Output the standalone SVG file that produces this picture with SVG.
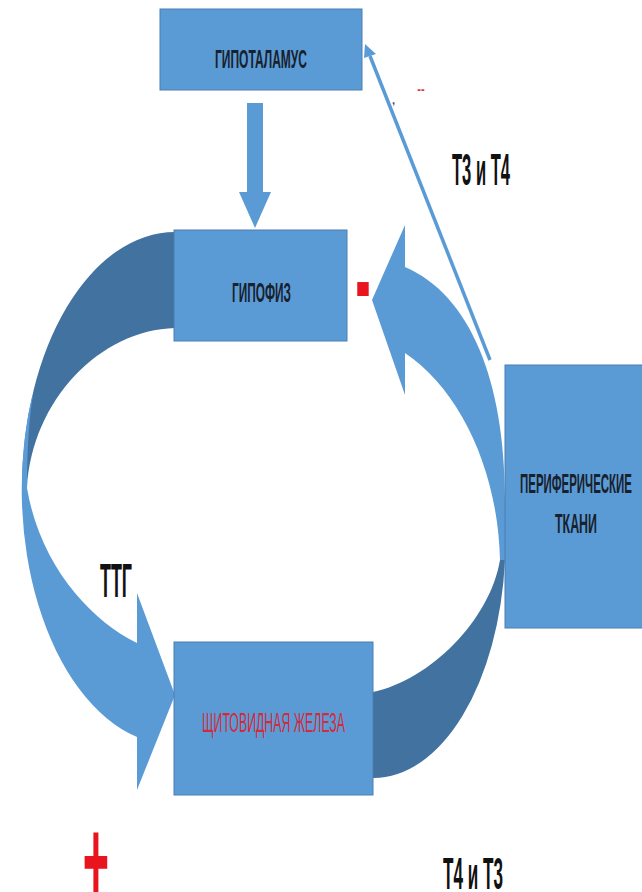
<svg xmlns="http://www.w3.org/2000/svg" width="642" height="892" viewBox="0 0 642 892">
<defs>
<style>
.box{fill:#5b9bd5;stroke:#4a7fb0;stroke-width:1}
.light{fill:#5b9bd5}
.dark{fill:#42729f}
.nt{font-family:"Liberation Sans",Arial,sans-serif;font-weight:bold;fill:#18212e;text-anchor:middle}
.lbl{font-family:"Liberation Sans",Arial,sans-serif;font-weight:bold;fill:#111;text-anchor:middle}
.red{font-family:"Liberation Sans",Arial,sans-serif;font-weight:bold;fill:#e8141e;text-anchor:middle}
</style>
</defs>
<rect width="642" height="892" fill="#fff"/>
<g id="connectors">
<path class="dark" d="M175 232 A153 256 0 0 0 22 488 L27 488 C32 400 100 330 175 328 Z"/>
<path class="light" d="M32.4 395 A153 256 0 0 0 137 737 L137 790 L175 695 L137 593 L137 643 C90 620 40 565 27 488 Q27 430 33 395 Z"/>
<path class="light" d="M505 560 L505 500 C505 380 470 295 405 267 L405 225 L372 300 L405 395 L405 353 C460 390 498 470 500 560 Z"/>
<path class="dark" d="M505 560 A132 238 0 0 1 373 778 L373 692 C430 680 490 620 500 560 Z"/>
<polygon class="light" points="247,103 263,103 263,192 271,192 255,228 239,192 247,192"/>
<line x1="490" y1="360" x2="370" y2="56" stroke="#5b9bd5" stroke-width="3.5"/>
<polygon class="light" points="365,44 376,54 364,58"/>
</g>
<g id="node-hypothalamus">
<rect class="box" x="160" y="9" width="202" height="81"/>
<text class="nt" x="261" y="68" font-size="25" textLength="92" lengthAdjust="spacingAndGlyphs">ГИПОТАЛАМУС</text>
</g>
<g id="node-hypophysis">
<rect class="box" x="174" y="230" width="173" height="111"/>
<text class="nt" x="261.5" y="302" font-size="27" textLength="59" lengthAdjust="spacingAndGlyphs">ГИПОФИЗ</text>
</g>
<g id="node-thyroid">
<rect class="box" x="174" y="642" width="199" height="153"/>
<text class="nt" x="273.5" y="732" font-size="27" textLength="143" lengthAdjust="spacingAndGlyphs" style="fill:#d42a3c;font-weight:normal">ЩИТОВИДНАЯ ЖЕЛЕЗА</text>
</g>
<g id="node-peripheral">
<rect class="box" x="505" y="365" width="145" height="263"/>
<text class="nt" x="576" y="493" font-size="28" textLength="112" lengthAdjust="spacingAndGlyphs">ПЕРИФЕРИЧЕСКИЕ</text>
<text class="nt" x="576" y="533" font-size="27" textLength="42" lengthAdjust="spacingAndGlyphs">ТКАНИ</text>
</g>
<g id="labels">
<text class="lbl" x="481" y="185" font-size="44" textLength="58" lengthAdjust="spacingAndGlyphs">Т3 и Т4</text>
<text class="lbl" x="116" y="597" font-size="48" textLength="32" lengthAdjust="spacingAndGlyphs">ТТГ</text>
<text class="lbl" x="473" y="889" font-size="44" textLength="60" lengthAdjust="spacingAndGlyphs">Т4 и Т3</text>
<text class="red" transform="translate(96,861) scale(1,2.6)" x="0" y="15.2" font-size="45">+</text>
<text class="red" transform="translate(363,289) scale(1,2.6)" x="0" y="11.7" font-size="45">-</text>
<text class="red" transform="translate(421,91) scale(1,1.4)" x="0" y="2" font-size="11" style="fill:#e0384a">--</text>
<text x="392" y="104" font-family="Liberation Sans, Arial, sans-serif" font-size="11" font-weight="bold" fill="#2d4f7c">,</text>
</g>
</svg>
